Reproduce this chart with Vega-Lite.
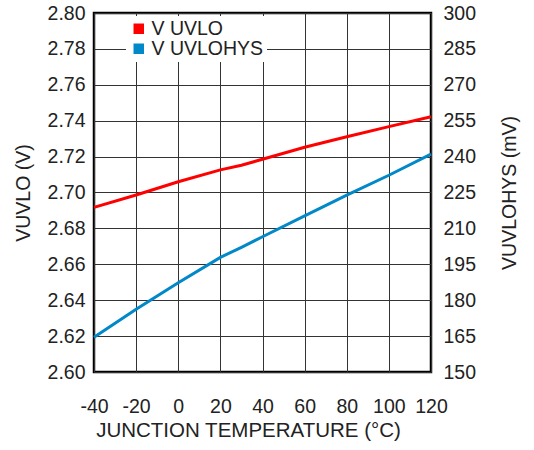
{
  "$schema": "https://vega.github.io/schema/vega-lite/v6.json",
  "width": 337,
  "height": 359,
  "autosize": {"type": "none"},
  "padding": {"left": 94, "top": 13, "right": 103, "bottom": 78},
  "background": "white",
  "config": {
    "view": {"stroke": "#000000", "strokeWidth": 2.5},
    "font": "Liberation Sans",
    "axis": {
      "labelFont": "Liberation Sans",
      "titleFont": "Liberation Sans",
      "labelFontSize": 19.5,
      "titleFontSize": 19.5,
      "labelColor": "#222222",
      "titleColor": "#222222",
      "titleFontWeight": "normal",
      "domain": false,
      "ticks": false,
      "labelOverlap": false,
      "labelFlush": false,
      "gridColor": "#333333",
      "gridOpacity": 1,
      "gridWidth": 1
    }
  },
  "data": {
    "values": [
      {"t": -40, "series": "V UVLO", "value": 2.6917},
      {"t": -20, "series": "V UVLO", "value": 2.6986},
      {"t": 0, "series": "V UVLO", "value": 2.706},
      {"t": 20, "series": "V UVLO", "value": 2.7126},
      {"t": 30, "series": "V UVLO", "value": 2.7152},
      {"t": 40, "series": "V UVLO", "value": 2.7185},
      {"t": 60, "series": "V UVLO", "value": 2.7252},
      {"t": 80, "series": "V UVLO", "value": 2.7311},
      {"t": 100, "series": "V UVLO", "value": 2.7367},
      {"t": 120, "series": "V UVLO", "value": 2.7422},
      {"t": -40, "series": "V UVLOHYS", "value": 164.5},
      {"t": -20, "series": "V UVLOHYS", "value": 176.2},
      {"t": 0, "series": "V UVLOHYS", "value": 187.3},
      {"t": 20, "series": "V UVLOHYS", "value": 197.9},
      {"t": 30, "series": "V UVLOHYS", "value": 202.1},
      {"t": 40, "series": "V UVLOHYS", "value": 206.5},
      {"t": 60, "series": "V UVLOHYS", "value": 215.2},
      {"t": 80, "series": "V UVLOHYS", "value": 223.9},
      {"t": 100, "series": "V UVLOHYS", "value": 232.2},
      {"t": 120, "series": "V UVLOHYS", "value": 241.0}
    ]
  },
  "encoding": {
    "x": {
      "field": "t",
      "type": "quantitative",
      "scale": {"domain": [-40, 120], "nice": false},
      "axis": {
        "values": [-40, -20, 0, 20, 40, 60, 80, 100, 120],
        "labelExpr": "'' + datum.value",
        "title": "JUNCTION TEMPERATURE (°C)",
        "titleFontSize": 20.5,
        "titleX": 154,
        "titleAlign": "center",
        "labelPadding": 25,
        "titlePadding": 5
      }
    },
    "color": {
      "field": "series",
      "type": "nominal",
      "scale": {"domain": ["V UVLO", "V UVLOHYS"], "range": ["#FF0000", "#0088C8"]},
      "legend": {
        "title": null,
        "orient": "none",
        "legendX": 32,
        "legendY": 3,
        "symbolType": "square",
        "symbolSize": 110,
        "symbolStrokeWidth": 0,
        "labelFontSize": 19.5,
        "labelFont": "Liberation Sans",
        "labelColor": "#222222",
        "fillColor": "white",
        "padding": 3,
        "rowPadding": -2,
        "labelOffset": 3,
        "encode": {
          "symbols": {"update": {"fill": {"scale": "color", "field": "value"}, "strokeWidth": {"value": 0}}}
        }
      }
    }
  },
  "layer": [
    {
      "transform": [{"filter": "datum.series === 'V UVLO'"}],
      "mark": {"type": "line", "strokeWidth": 3},
      "encoding": {
        "y": {
          "field": "value",
          "type": "quantitative",
          "scale": {"domain": [2.6, 2.8], "nice": false, "zero": false},
          "axis": {
            "orient": "left",
            "values": [2.6, 2.62, 2.64, 2.66, 2.68, 2.7, 2.72, 2.74, 2.76, 2.78, 2.8],
            "format": ".2f",
            "title": "VUVLO (V)",
            "labelPadding": 9,
            "titlePadding": 14,
            "grid": true
          }
        }
      }
    },
    {
      "transform": [{"filter": "datum.series === 'V UVLOHYS'"}],
      "mark": {"type": "line", "strokeWidth": 3},
      "encoding": {
        "y": {
          "field": "value",
          "type": "quantitative",
          "scale": {"domain": [150, 300], "nice": false, "zero": false},
          "axis": {
            "orient": "right",
            "values": [150, 165, 180, 195, 210, 225, 240, 255, 270, 285, 300],
            "title": "VUVLOHYS (mV)",
            "titleAngle": -90,
            "titleBaseline": "bottom",
            "labelPadding": 12,
            "titlePadding": 44,
            "grid": false
          }
        }
      }
    }
  ],
  "resolve": {"scale": {"y": "independent"}}
}
